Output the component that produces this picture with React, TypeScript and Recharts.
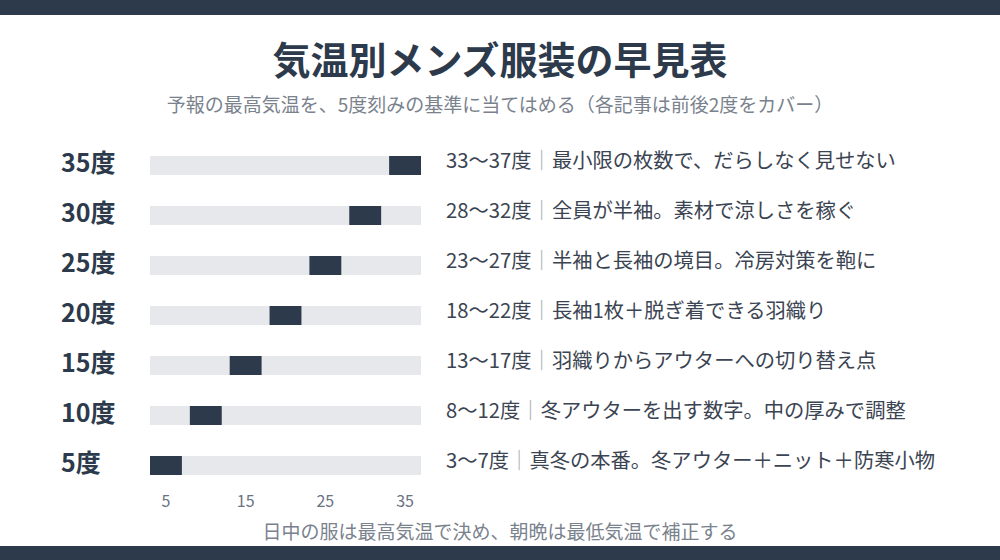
import React from "react";
import { BarChart, Bar, XAxis, YAxis } from "recharts";

const levels = ["35度", "30度", "25度", "20度", "15度", "10度", "5度"];
const lows = [33, 28, 23, 18, 13, 8, 3];
const highs = [37, 32, 27, 22, 17, 12, 7];
const notes = [
  "最小限の枚数で、だらしなく見せない",
  "全員が半袖。素材で涼しさを稼ぐ",
  "半袖と長袖の境目。冷房対策を鞄に",
  "長袖1枚＋脱ぎ着できる羽織り",
  "羽織りからアウターへの切り替え点",
  "冬アウターを出す数字。中の厚みで調整",
  "真冬の本番。冬アウター＋ニット＋防寒小物",
];
const xTicks = [5, 15, 25, 35];

const title = "気温別メンズ服装の早見表";
const subtitle = "予報の最高気温を、5度刻みの基準に当てはめる（各記事は前後2度をカバー）";
const footnote = "日中の服は最高気温で決め、朝晩は最低気温で補正する";

const navy = "#2c3a4b";
const font = "'Noto Sans CJK JP', 'Noto Sans', sans-serif";

const data = levels.map((label, i) => ({
  label,
  range: [lows[i], highs[i]],
  desc: `${lows[i]}〜${highs[i]}度|${notes[i]}`,
}));

const LevelTick = (props: any) => {
  const { y, payload } = props;
  return (
    <text x={61} y={y} dy={7} fontSize={25} fontWeight={700} fill={navy} fontFamily={font}>
      {payload.value}
    </text>
  );
};

const NoteTick = (props: any) => {
  const { y, payload } = props;
  const [range, note] = String(payload.value).split("|");
  return (
    <text x={446} y={y} dy={3} fontSize={20.3} fill="#3b4452" fontFamily={font}>
      <tspan>{range}</tspan>
      <tspan fill="#a3a9b1">｜</tspan>
      <tspan>{note}</tspan>
    </text>
  );
};

export default function App() {
  return (
    <div
      style={{
        position: "absolute",
        left: 0,
        top: 0,
        width: 1000,
        height: 560,
        background: "#fff",
        fontFamily: font,
        overflow: "hidden",
      }}
    >
      <div style={{ position: "absolute", left: 0, top: 0, width: 1000, height: 15, background: navy }} />
      <div style={{ position: "absolute", left: 0, top: 546, width: 1000, height: 14, background: navy }} />
      <div
        style={{
          position: "absolute",
          top: 34,
          width: 1000,
          textAlign: "center",
          fontSize: 38,
          fontWeight: 700,
          color: navy,
          lineHeight: "48px",
        }}
      >
        {title}
      </div>
      <div
        style={{
          position: "absolute",
          top: 91,
          width: 1000,
          textAlign: "center",
          fontSize: 19,
          color: "#7a828d",
          lineHeight: "26px",
        }}
      >
        {subtitle}
      </div>
      <div
        style={{
          position: "absolute",
          top: 518,
          width: 1000,
          textAlign: "center",
          fontSize: 19,
          color: "#7a828d",
          lineHeight: "26px",
        }}
      >
        {footnote}
      </div>
      <div style={{ position: "absolute", left: 0, top: 0 }}>
        <BarChart
          width={1000}
          height={560}
          data={data}
          layout="vertical"
          margin={{ top: 140, right: 0, bottom: 40, left: 0 }}
          barSize={19}
        >
          <XAxis
            type="number"
            domain={[3, 37]}
            ticks={xTicks}
            axisLine={false}
            tickLine={false}
            tickMargin={0}
            height={30}
            tick={{ fontSize: 16, fill: "#6b7380", fontFamily: font }}
          />
          <YAxis
            yAxisId="left"
            type="category"
            dataKey="label"
            width={150}
            axisLine={false}
            tickLine={false}
            tick={<LevelTick />}
          />
          <YAxis
            yAxisId="right"
            orientation="right"
            type="category"
            dataKey="desc"
            width={579}
            axisLine={false}
            tickLine={false}
            tick={<NoteTick />}
          />
          <Bar
            yAxisId="left"
            dataKey="range"
            fill={navy}
            background={{ fill: "#e7e8eb" }}
            isAnimationActive={false}
          />
        </BarChart>
      </div>
    </div>
  );
}
